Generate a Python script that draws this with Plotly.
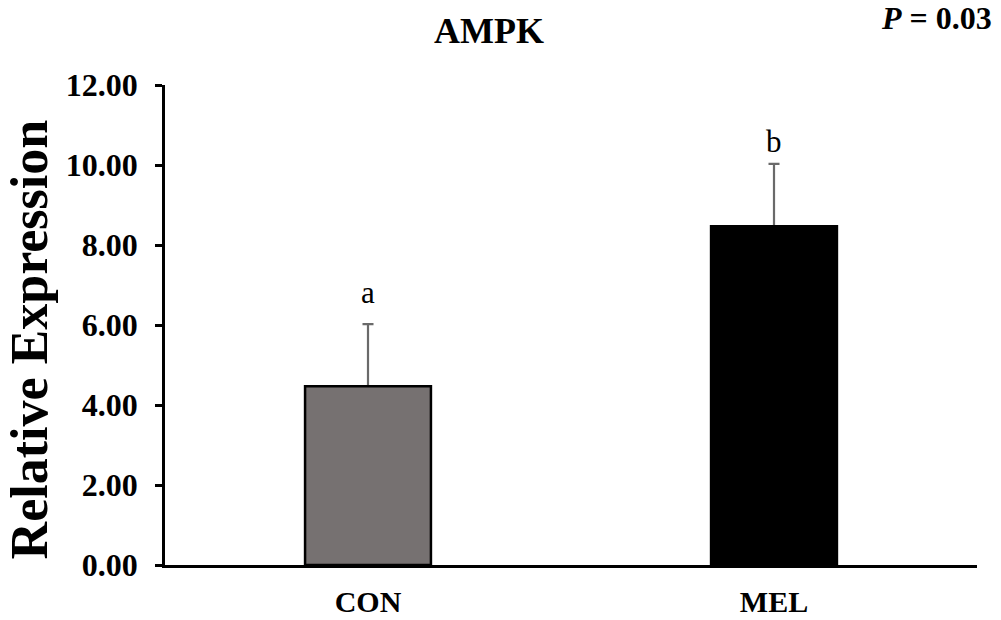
import plotly.graph_objects as go

# Data
groups = ["CON", "MEL"]
means = [4.47, 8.47]
errors = [1.55, 1.56]
letters = ["a", "b"]
bar_colors = ["#767171", "#000000"]
title_text = "AMPK"
p_text = "<b><i>P</i> = 0.03</b>"
y_label = "Relative Expression"

SERIF = "Liberation Serif, Times New Roman, serif"

# Vertical pixel offsets of the significance letters above each error cap
letter_shift = {"CON": 12, "MEL": 3}

fig = go.Figure()

# Error bars first (transparent bars), so the filled bars cover the lower cap
fig.add_trace(go.Bar(
    x=groups, y=means, width=0.31,
    marker=dict(color="rgba(0,0,0,0)", line=dict(width=0)),
    error_y=dict(type="data", symmetric=False, array=errors,
                 arrayminus=[0] * len(errors),
                 color="#6a6a6a", thickness=2.2, width=5.5),
    showlegend=False, hoverinfo="skip",
))

fig.add_trace(go.Bar(
    x=groups, y=means, width=0.31,
    marker=dict(color=bar_colors, line=dict(color="#000000", width=2.5)),
    showlegend=False,
))

# Significance letters above the error bars
for g, m, e, t in zip(groups, means, errors, letters):
    fig.add_annotation(
        x=g, y=m + e, text=t, showarrow=False,
        yanchor="bottom", yshift=letter_shift[g],
        font=dict(family=SERIF, size=31, color="#000000"),
    )

# P value in the top-right corner
fig.add_annotation(
    xref="paper", yref="paper", x=1.0205, y=1.1395,
    xanchor="right", yanchor="middle", showarrow=False,
    text=p_text, font=dict(family=SERIF, size=32, color="#000000"),
)

# Y axis title
fig.add_annotation(
    xref="paper", yref="paper", x=-0.1665, y=0.4696,
    xanchor="center", yanchor="middle", showarrow=False, textangle=-90,
    text="<b>" + y_label + "</b>",
    font=dict(family=SERIF, size=52, color="#000000"),
)

fig.update_layout(
    width=1001, height=620,
    margin=dict(l=165, r=24, t=85, b=55, autoexpand=False),
    paper_bgcolor="white", plot_bgcolor="white",
    barmode="overlay",
    title=dict(text="<b>" + title_text + "</b>", x=489 / 1001, xanchor="center",
               xref="container", yref="container", y=1 - 30 / 620, yanchor="middle",
               font=dict(family=SERIF, size=36, color="#000000")),
    xaxis=dict(
        range=[-0.5, 1.5], showline=True, linecolor="#000000", linewidth=2.5,
        ticks="", showgrid=False, zeroline=False, automargin=False,
        tickfont=dict(family=SERIF, size=30, color="#000000", weight="bold"),
        ticklabelstandoff=8,
    ),
    yaxis=dict(
        range=[0, 12], dtick=2, tickformat=".2f",
        showline=True, linecolor="#000000", linewidth=2.5,
        ticks="outside", ticklen=7, tickwidth=2.5, tickcolor="#000000",
        showgrid=False, zeroline=False, automargin=False,
        tickfont=dict(family=SERIF, size=32, color="#000000", weight="bold"),
        ticklabelstandoff=11,
    ),
)

fig.write_html("out.html")
